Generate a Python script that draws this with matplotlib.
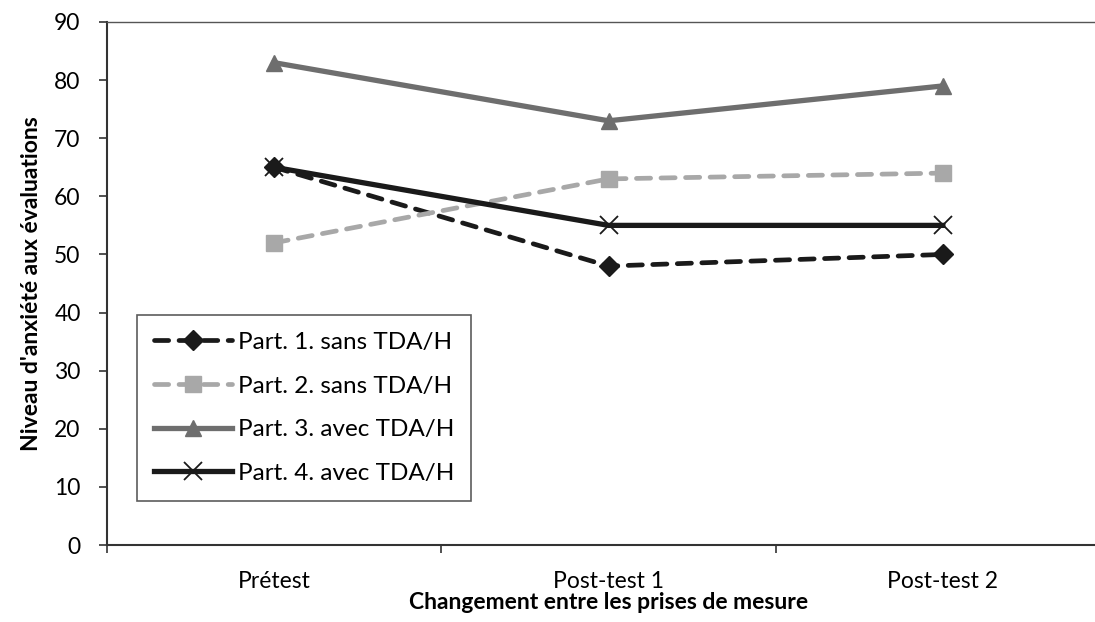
import matplotlib
matplotlib.use("Agg")
import matplotlib.pyplot as plt

categories = ["Prétest", "Post-test 1", "Post-test 2"]
part1 = [65, 48, 50]
part2 = [52, 63, 64]
part3 = [83, 73, 79]
part4 = [65, 55, 55]
labels = ["Part. 1. sans TDA/H", "Part. 2. sans TDA/H",
          "Part. 3. avec TDA/H", "Part. 4. avec TDA/H"]
yticks = [0, 10, 20, 30, 40, 50, 60, 70, 80, 90]

plt.rcParams['font.family'] = ['Lato', 'DejaVu Sans']
FS = 16.5

fig = plt.figure(figsize=(10.95, 6.22), dpi=100)
L, R, T, B = 107, 1110, 22, 545
W, H = 1095, 622
ax = fig.add_axes([L / W, 1 - B / H, (R - L) / W, (B - T) / H])

x = list(range(len(categories)))
ax.plot(x, part1, color="#1a1a1a", lw=3.4, ls=(0, (3, 2.2)), marker="D",
        markersize=10, label=labels[0], dash_capstyle="round")
ax.plot(x, part2, color="#a8a8a8", lw=3.4, ls=(0, (3, 2.2)), marker="s",
        markersize=12, label=labels[1], dash_capstyle="round")
ax.plot(x, part3, color="#6e6e6e", lw=3.8, marker="^", markersize=12,
        label=labels[2])
ax.plot(x, part4, color="#1a1a1a", lw=3.8, marker="x", markersize=13,
        markeredgewidth=1.3, label=labels[3])

ax.set_xlim(-0.5, 2.5)
ax.set_ylim(0, 90)
ax.set_yticks(yticks)
ax.set_xticks(x)
ax.set_xticklabels(categories, fontsize=FS)
ax.set_xticks([-0.5, 0.5, 1.5, 2.5], minor=True)
ax.tick_params(axis="x", which="major", length=0, pad=19)
ax.tick_params(axis="x", which="minor", length=6, width=1.2, color="#333333")
ax.tick_params(axis="y", length=6, width=1.2, color="#333333", labelsize=FS,
               pad=13)

for s in ["left", "bottom"]:
    ax.spines[s].set_linewidth(1.5)
    ax.spines[s].set_color("#333333")
ax.spines["right"].set_visible(False)
ax.spines["top"].set_linewidth(1.0)
ax.spines["top"].set_color("#555555")

ax.set_ylabel("Niveau d'anxiété aux évaluations", fontsize=FS,
              fontweight="bold", labelpad=9)
ax.set_xlabel("Changement entre les prises de mesure", fontsize=FS,
              fontweight="bold", labelpad=0)

leg = ax.legend(loc="upper left", bbox_to_anchor=(0.03, 0.44), fontsize=17.5,
                frameon=True, fancybox=False, edgecolor="#333333",
                handlelength=3.2, labelspacing=0.93, borderpad=0.7,
                handletextpad=0.25, borderaxespad=0)
leg.get_frame().set_linewidth(1.2)

fig.savefig("out.png", dpi=100)
